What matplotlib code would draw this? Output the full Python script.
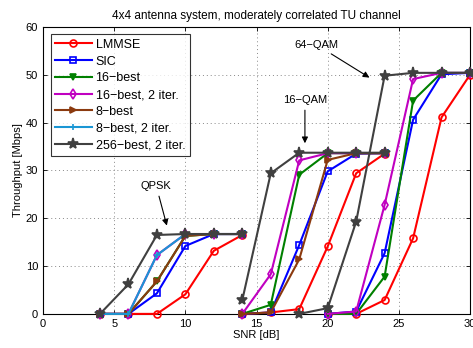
import matplotlib
matplotlib.use('Agg')
from matplotlib import pyplot as plt
import numpy as np

plt.rcParams['font.family'] = ['Liberation Sans', 'DejaVu Sans']

# SNR grids of the three modulation segments
snr_qpsk = [4, 6, 8, 10, 12, 14]
snr_16qam = [14, 16, 18, 20, 22, 24]
snr_64qam = [18, 20, 22, 24, 26, 28, 30]

# throughput [Mbps]; None where a detector has no point on that segment
lmmse_qpsk = [0, 0, 0, 4.1, 13.2, 16.5]
lmmse_16qam = [0, 0.3, 1.0, 14.1, 29.4, 33.5]
lmmse_64qam = [None, 0, 0, 2.9, 15.8, 41.1, 50.0]

sic_qpsk = [0, 0, 4.3, 14.2, 16.7, 16.7]
sic_16qam = [0, 0.3, 14.4, 29.8, 33.5, 33.6]
sic_64qam = [None, 0, 0.5, 12.7, 40.6, 50.1, 50.4]

best16_qpsk = [0, 0, 6.8, 16.3, 16.7, 16.7]
best16_16qam = [0, 1.9, 29.1, 33.6, 33.6, 33.6]
best16_64qam = [None, 0, 0, 7.8, 44.6, 50.4, 50.4]

best16it_qpsk = [0, 0, 12.3, 16.7, 16.7, 16.7]
best16it_16qam = [0, 8.3, 32.1, 33.6, 33.6, 33.6]
best16it_64qam = [None, 0, 0.5, 22.8, 49.1, 50.4, 50.4]

best8_qpsk = [0, 0, 6.8, 16.3, 16.7, 16.7]
best8_16qam = [0, 0.3, 11.4, 32.2, 33.6, 33.6]

best8it_qpsk = [0, 0, 12.3, 16.7, 16.7, 16.7]

best256_qpsk = [0, 6.2, 16.5, 16.7, 16.7, 16.7]
best256_16qam = [2.9, 29.4, 33.7, 33.7, 33.7, 33.7]
best256_64qam = [0, 1.2, 19.3, 49.8, 50.4, 50.4, 50.4]

series = [
    ('LMMSE', 'red', 'o', 'none', [(snr_qpsk, lmmse_qpsk), (snr_16qam, lmmse_16qam), (snr_64qam, lmmse_64qam)]),
    ('SIC', 'blue', 's', 'none', [(snr_qpsk, sic_qpsk), (snr_16qam, sic_16qam), (snr_64qam, sic_64qam)]),
    ('16\u2212best', 'green', 'v', 'green', [(snr_qpsk, best16_qpsk), (snr_16qam, best16_16qam), (snr_64qam, best16_64qam)]),
    ('16\u2212best, 2 iter.', '#c000c0', 'd', 'none', [(snr_qpsk, best16it_qpsk), (snr_16qam, best16it_16qam), (snr_64qam, best16it_64qam)]),
    ('8\u2212best', '#8b3a0f', '>', '#8b3a0f', [(snr_qpsk, best8_qpsk), (snr_16qam, best8_16qam)]),
    ('8\u2212best, 2 iter.', '#1a96d4', '+', 'none', [(snr_qpsk, best8it_qpsk)]),
    ('256\u2212best, 2 iter.', '#404040', '*', '#404040', [(snr_qpsk, best256_qpsk), (snr_16qam, best256_16qam), (snr_64qam, best256_64qam)]),
]

fig = plt.figure(figsize=(4.73, 3.48), dpi=100)
ax = fig.add_axes([0.091, 0.098, 0.9027, 0.8246])

for name, col, mk, face, segs in series:
    ms = 8 if mk == '*' else 5
    for k, (xs, ys) in enumerate(segs):
        xs = np.array([a for a, b in zip(xs, ys) if b is not None], dtype=float)
        ys = np.array([b for b in ys if b is not None], dtype=float)
        ax.plot(xs, ys, '-', marker=mk, color=col, markerfacecolor=face,
                markeredgecolor=col, markersize=ms, markeredgewidth=1.2,
                linewidth=1.5, label=name if k == 0 else None, clip_on=False, zorder=3)

# modulation annotations
arrow = dict(arrowstyle='-|>', color='black', lw=0.8, mutation_scale=9)
ax.annotate('QPSK', xy=(8.75, 17.9), xytext=(7.95, 26.8), fontsize=8,
            ha='center', va='center', arrowprops=arrow)
ax.annotate('16\u2212QAM', xy=(18.4, 35.1), xytext=(18.4, 44.8), fontsize=8,
            ha='center', va='center', arrowprops=arrow)
ax.annotate('64\u2212QAM', xy=(23.1, 49.1), xytext=(19.2, 56.3), fontsize=8,
            ha='center', va='center', arrowprops=arrow)

ax.set_xlim(0, 30)
ax.set_ylim(0, 60)
ax.set_xticks(np.arange(0, 31, 5))
ax.set_yticks(np.arange(0, 61, 10))
ax.tick_params(direction='in', top=True, right=True, labelsize=8, length=3, width=0.6)
ax.grid(True, linestyle=(0, (1, 3)), color='#888888', linewidth=0.7)
for sp in ax.spines.values():
    sp.set_linewidth(0.8)

ax.set_xlabel('SNR [dB]', fontsize=8, labelpad=1)
ax.set_ylabel('Throughput [Mbps]', fontsize=8, labelpad=2)
ax.set_title('4x4 antenna system, moderately correlated TU channel', fontsize=8.5, pad=6)

leg = ax.legend(loc='upper left', fontsize=9, frameon=True, fancybox=False,
                edgecolor='black', handlelength=2.95, handletextpad=0.3,
                borderpad=0.35, labelspacing=0.38, borderaxespad=0.6)
leg.get_frame().set_linewidth(0.8)

fig.savefig('out.png', dpi=100)
